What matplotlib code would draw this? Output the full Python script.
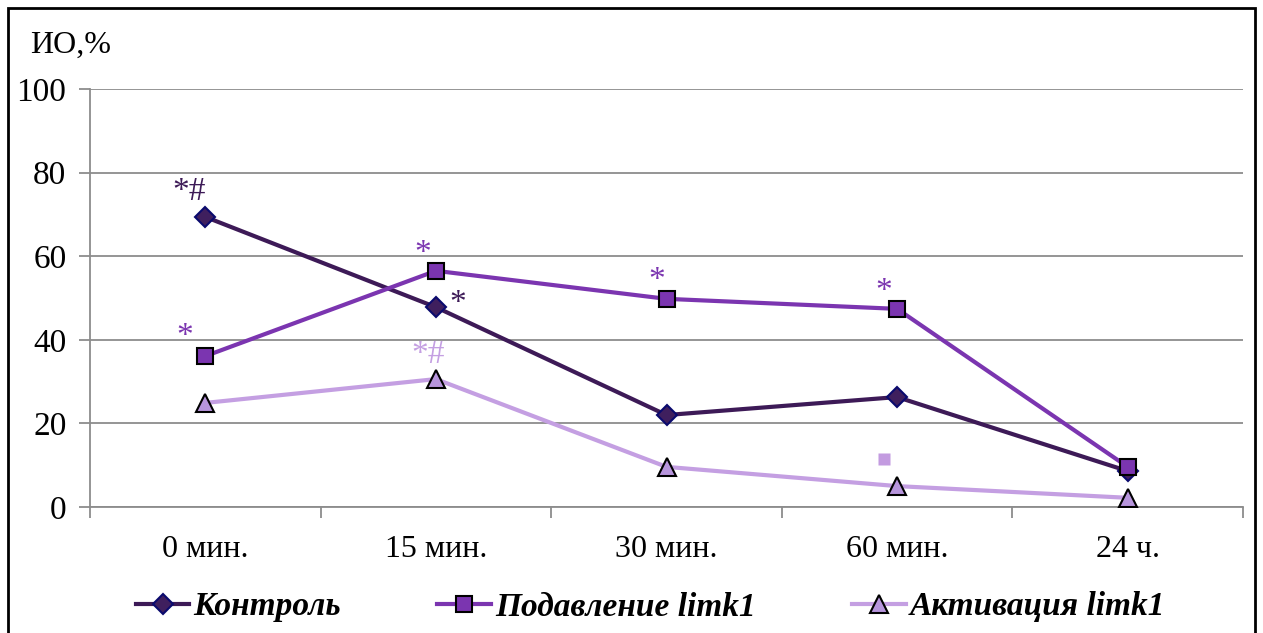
import matplotlib
matplotlib.use("Agg")
import matplotlib.pyplot as plt
from matplotlib.lines import Line2D
from matplotlib.patches import Rectangle

categories = ["0 мин.", "15 мин.", "30 мин.", "60 мин.", "24 ч."]
control = [69.4, 47.8, 22.0, 26.3, 8.6]
suppress = [36.1, 56.5, 49.8, 47.4, 9.6]
activate = [24.9, 30.6, 9.6, 5.0, 2.2]
series_names = ["Контроль", "Подавление limk1", "Активация limk1"]
y_ticks = [0, 20, 40, 60, 80, 100]

# annotations: (category index, x offset, y baseline value, text, series color index)
annotations = [
    (0, -0.07, 73.4, "*#", 0),
    (0, -0.087, 38.8, "*", 1),
    (1, -0.056, 58.6, "*", 1),
    (1, 0.095, 46.7, "*", 0),
    (1, -0.035, 34.4, "*#", 2),
    (2, -0.043, 52.2, "*", 1),
    (3, -0.056, 49.5, "*", 1),
]
square_note = (3, -0.056, 11.5)

plt.rcParams['font.family'] = ['Liberation Serif', 'DejaVu Serif']

c_ctrl = "#3D1A57"
c_sup = "#7B35B0"
c_act = "#C49FE2"
colors = [c_ctrl, c_sup, c_act]

fig = plt.figure(figsize=(12.63, 6.33), dpi=100)
ax = fig.add_axes([90/1263, 1-507/633, (1243-90)/1263, (507-89)/633])

x = list(range(len(categories)))
ax.plot(x, control, color=c_ctrl, lw=3, marker="D", ms=10, mfc="#3F1F5E", mec="#0A0A6E", mew=1.5, zorder=3)
ax.plot(x, suppress, color=c_sup, lw=3, marker="s", ms=11, mfc=c_sup, mec="black", mew=1.5, zorder=4)
ax.plot(x, activate, color=c_act, lw=3, marker="^", ms=13, mfc="#B795DC", mec="black", mew=1.5, zorder=3)

for ci, dx, yv, txt, si in annotations:
    ax.text(ci + dx, yv, txt, color=colors[si], fontsize=24, ha="center", va="baseline", zorder=5)
ax.plot([square_note[0] + square_note[1]], [square_note[2]], marker="s", ms=9, color="#C39BE0",
        mec="none", ls="none", zorder=5)

ax.set_xlim(-0.5, len(categories) - 0.5)
ax.set_ylim(0, 100)
ax.set_yticks(y_ticks)
ax.set_yticklabels([str(t) for t in y_ticks], fontsize=24)
ax.yaxis.grid(True, color="#8C8C8C", lw=1.3)
ax.set_axisbelow(True)
ax.set_xticks(x)
ax.set_xticklabels(categories, fontsize=23)
ax.set_xticks([i - 0.5 for i in range(len(categories) + 1)], minor=True)
ax.tick_params(axis="x", which="major", length=0, pad=20)
ax.tick_params(axis="x", which="minor", length=8, color="#8C8C8C", width=1.3, direction="out")
ax.tick_params(axis="y", length=8, color="#8C8C8C", width=1.3, direction="out", pad=9)
for s in ["top", "right"]:
    ax.spines[s].set_visible(False)
for s in ["left", "bottom"]:
    ax.spines[s].set_color("#8C8C8C")
    ax.spines[s].set_linewidth(1.3)

fig.text(30/1263, 1-45/633, "ИО,%", fontsize=23, ha="left", va="center")

# outer frame
fig.patches.append(Rectangle((8/1263, -0.01), (1255-8)/1263, 1-8/633 + 0.01, transform=fig.transFigure,
                             fill=False, ec="black", lw=2))

handles = [
    Line2D([], [], color=c_ctrl, lw=3, marker="D", ms=10, mfc="#3F1F5E", mec="#0A0A6E", mew=1.5),
    Line2D([], [], color=c_sup, lw=3, marker="s", ms=11, mfc=c_sup, mec="black", mew=1.5),
    Line2D([], [], color=c_act, lw=3, marker="^", ms=13, mfc="#B795DC", mec="black", mew=1.5),
]
fig.legend(handles, series_names, loc="center", bbox_to_anchor=(0.515, 1-607/633), ncol=3,
           frameon=False, prop={"family": "Liberation Serif", "style": "italic", "weight": "bold", "size": 24},
           handlelength=1.6, handletextpad=0.12, columnspacing=2.9)

fig.savefig("out.png", dpi=100)
